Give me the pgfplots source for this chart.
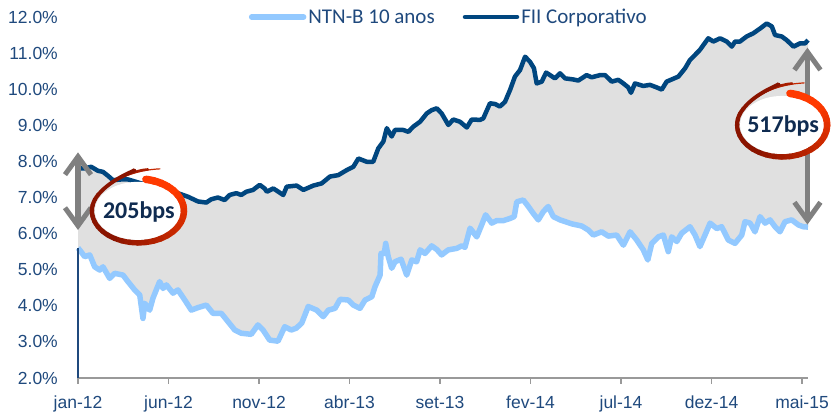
\documentclass[border=0pt]{standalone}
\usepackage{pgfplots}
\pgfplotsset{compat=1.18}
\usepgfplotslibrary{fillbetween}
\usetikzlibrary{arrows.meta}
\usepackage{fontspec}
\setmainfont{Liberation Sans}
\newfontfamily\calibri{Carlito}
\definecolor{lightln}{HTML}{93C9FF}
\definecolor{darkln}{HTML}{00467F}
\definecolor{areafill}{HTML}{E0E0E0}
\definecolor{txtblue}{HTML}{1F497D}
\definecolor{navy}{HTML}{0F2B50}
\definecolor{arrgray}{HTML}{808080}
\definecolor{cA}{HTML}{FF3A00}
\definecolor{cB}{HTML}{8A1400}

\pgfplotstableread{
m v
0.00 7.80
0.37 7.81
0.73 7.85
1.10 7.74
1.38 7.71
1.66 7.60
1.93 7.48
2.39 7.50
2.76 7.50
3.43 7.40
4.25 7.30
4.97 7.22
5.52 7.12
6.08 7.02
6.63 6.89
7.09 6.86
7.36 6.95
7.73 7.00
8.10 6.93
8.38 7.07
8.75 7.12
9.02 7.07
9.30 7.16
9.67 7.21
10.04 7.35
10.31 7.25
10.43 7.16
10.79 7.25
11.07 7.16
11.34 7.07
11.53 7.30
12.08 7.33
12.45 7.21
13.00 7.33
13.46 7.39
13.92 7.58
14.38 7.62
14.85 7.76
15.21 7.85
15.49 8.08
15.95 7.99
16.31 7.99
16.59 8.36
16.87 8.55
17.06 8.92
17.33 8.69
17.51 8.87
17.97 8.87
18.25 8.82
18.52 8.96
18.90 9.10
19.27 9.33
19.54 9.42
19.82 9.47
20.09 9.33
20.46 9.01
20.73 9.16
21.10 9.10
21.48 8.94
21.75 9.16
22.21 9.15
22.39 9.19
22.76 9.61
23.04 9.59
23.31 9.52
23.59 9.65
23.87 9.98
24.14 10.35
24.42 10.53
24.70 10.90
24.97 10.76
25.19 10.58
25.34 10.16
25.62 10.21
25.86 10.46
26.08 10.39
26.35 10.30
26.63 10.44
26.91 10.30
27.36 10.27
27.64 10.24
28.10 10.39
28.38 10.33
28.84 10.39
29.12 10.39
29.49 10.21
29.85 10.26
30.13 10.16
30.40 10.05
30.55 9.90
30.77 10.16
31.23 10.09
31.60 10.12
31.97 10.05
32.25 9.99
32.52 10.21
33.17 10.35
33.54 10.58
33.81 10.81
34.09 10.95
34.36 11.09
34.82 11.41
35.10 11.32
35.47 11.41
35.84 11.32
36.12 11.18
36.30 11.32
36.57 11.32
36.94 11.46
37.31 11.55
37.68 11.68
38.05 11.82
38.33 11.74
38.51 11.50
38.88 11.46
39.15 11.36
39.53 11.18
39.89 11.27
40.17 11.27
40.33 11.36
}\darkdata

\pgfplotstableread{
m v
0.00 5.60
0.09 5.55
0.37 5.36
0.65 5.41
0.92 5.08
1.20 4.99
1.38 5.08
1.75 4.76
2.03 4.90
2.49 4.85
2.76 4.67
3.13 4.44
3.41 4.30
3.59 3.65
3.69 4.07
3.96 3.88
4.14 4.21
4.51 4.67
4.70 4.48
4.88 4.58
5.25 4.35
5.52 4.44
5.90 4.16
6.26 3.88
6.63 3.95
7.09 4.02
7.46 3.79
7.92 3.79
8.29 3.56
8.66 3.33
9.02 3.24
9.57 3.21
9.94 3.47
10.22 3.33
10.59 3.05
11.05 3.02
11.42 3.42
11.78 3.33
12.06 3.38
12.36 3.52
12.72 3.98
13.19 3.88
13.55 3.70
13.83 3.88
14.20 3.93
14.48 4.18
14.93 4.16
15.21 4.02
15.58 3.93
15.86 4.16
16.23 4.25
16.41 4.53
16.69 4.85
16.74 5.45
16.92 5.45
17.00 5.73
17.14 5.36
17.33 5.04
17.51 5.22
17.85 5.29
18.16 4.85
18.44 5.27
18.71 5.22
18.90 5.55
19.17 5.45
19.54 5.66
19.82 5.56
20.09 5.41
20.46 5.55
20.92 5.59
21.20 5.66
21.38 5.62
21.66 6.15
22.03 5.91
22.30 6.24
22.52 6.52
22.86 6.29
23.13 6.36
23.50 6.36
23.87 6.42
24.10 6.47
24.24 6.88
24.60 6.93
24.88 6.75
25.15 6.56
25.43 6.38
25.71 6.61
25.98 6.75
26.26 6.47
26.63 6.38
27.28 6.27
27.83 6.21
28.19 6.10
28.47 5.96
28.93 6.05
29.30 5.93
29.76 5.96
30.13 5.68
30.50 6.05
30.87 5.82
31.23 5.55
31.48 5.27
31.70 5.73
32.06 5.91
32.34 5.96
32.61 5.50
32.80 5.91
33.08 5.78
33.35 6.01
33.81 6.19
34.09 5.96
34.36 5.64
34.64 5.96
34.92 6.29
35.29 6.14
35.56 6.19
35.93 5.82
36.30 5.73
36.67 5.96
36.85 6.33
37.13 6.29
37.40 6.05
37.68 6.47
37.96 6.29
38.23 6.38
38.51 6.19
38.78 6.05
39.06 6.33
39.43 6.38
39.80 6.24
40.07 6.19
40.33 6.18
}\lightdata

\newcommand\brush[4]{%
\begin{scope}[shift={(#1)}]
  \fill[white] (0,0) ellipse[x radius=#2-3bp, y radius=#3-3bp];
  \foreach \i in {0,...,28} {
    \pgfmathsetmacro\sa{80-10*\i}
    \pgfmathsetmacro\ea{\sa-11}
    \pgfmathtruncatemacro\p{min(100,max(0,\i-4)*100/16)}
    \pgfmathsetmacro\w{7.5-3.5*\i/28}
    \draw[line width=\w bp, color=cB!\p!cA, line cap=round] (\sa:#2 and #3) arc[start angle=\sa, end angle=\ea, x radius=#2, y radius=#3];
  }
  \draw[line width=1.2bp, color=cB!50!cA, line cap=round] (150:#2 and #3) .. controls (-26bp,33bp) and (0bp,41bp) .. (22bp,42bp);
  \draw[line width=2.5bp, color=cB!75!cA, line cap=round, shorten >=12bp] (150:#2 and #3) .. controls (-26bp,33bp) and (0bp,41bp) .. (22bp,42bp);
  \draw[line width=3.8bp, color=cB, line cap=round, shorten >=26bp] (150:#2 and #3) .. controls (-26bp,33bp) and (0bp,41bp) .. (22bp,42bp);
  \node[font=\calibri\bfseries\fontsize{24bp}{26bp}\selectfont, text=navy] at (1bp,-1bp) {#4};
\end{scope}}

\begin{document}
\begin{tikzpicture}
\begin{axis}[
  set layers,
  scale only axis, width=730bp, height=361bp,
  at={(0,0)}, anchor=south west,
  xmin=0, xmax=40.33, ymin=2, ymax=12,
  clip=false,
  axis x line*=bottom, axis y line*=left,
  x axis line style={draw=gray!80, line width=1.5bp, -},
  y axis line style={draw=none},
  xtick={0,5,...,40},
  xticklabels={jan-12,jun-12,nov-12,abr-13,set-13,fev-14,jul-14,dez-14,mai-15},
  ytick={2,3,...,12},
  yticklabel={\pgfmathprintnumber[fixed,fixed zerofill,precision=1]{\tick}\%},
  /pgf/number format/assume math mode=true,
  tick label style={font=\fontsize{17.5bp}{20bp}\selectfont, text=txtblue},
  tick align=outside,
  major tick length=6bp,
  xtick style={draw=gray!80, line width=1.5bp},
  ytick style={draw=none},
  yticklabel style={inner sep=0pt, xshift=-14bp},
  xticklabel style={inner sep=0pt, yshift=-12bp},
  legend style={at={(0.508,1)}, anchor=center, draw=none, fill=none,
    legend columns=2, font=\calibri\fontsize{21bp}{24bp}\selectfont,
    nodes={text=txtblue, inner sep=2bp},
    /tikz/every even column/.append style={column sep=26bp}},
  legend image code/.code={\draw[#1, line cap=round] (0bp,0bp) -- (52bp,0bp);},
]
\addplot[name path=light, lightln, line width=5.5bp, line join=round] table[x=m,y=v] {\lightdata};
\addlegendentry{NTN-B 10 anos}
\addplot[name path=dark, darkln, line width=4.5bp, line join=round] table[x=m,y=v] {\darkdata};
\addlegendentry{FII Corporativo}
\addplot[areafill, forget plot] fill between[of=dark and light];
\draw[txtblue, line width=1.2bp] (axis cs:0,2) -- (axis cs:0,5.6);
\draw[arrgray, line width=5bp, {Straight Barb[length=18bp,width=26bp]}-{Straight Barb[length=18bp,width=26bp]}] (axis cs:0,6.1) -- (axis cs:0,8.25);
\draw[arrgray, line width=5bp, {Straight Barb[length=18bp,width=26bp]}-{Straight Barb[length=18bp,width=26bp]}] (axis cs:40.3,6.25) -- (axis cs:40.3,11.15);
\coordinate (c1) at (axis cs:3.31,6.63);
\coordinate (c2) at (axis cs:38.9,9.01);
\end{axis}
\brush{c1}{46bp}{32bp}{205bps}
\brush{c2}{45bp}{32bp}{517bps}
\path (-78bp,-40bp) rectangle (753bp,378bp);
\end{tikzpicture}
\end{document}
